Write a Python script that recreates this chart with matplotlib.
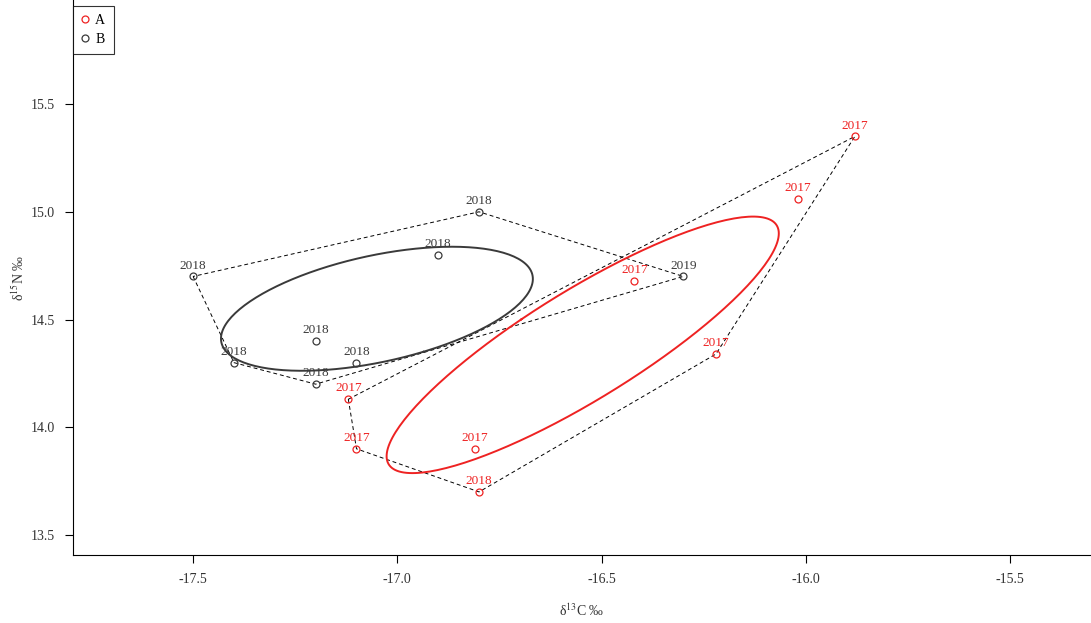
import matplotlib
matplotlib.use("Agg")
import matplotlib.pyplot as plt
import numpy as np

plt.rcParams['font.family'] = ['Liberation Serif', 'DejaVu Serif']
plt.rcParams['mathtext.fontset'] = 'stix'
plt.rcParams['axes.unicode_minus'] = False

# group A (red)
a_x = [-15.88, -16.02, -16.42, -16.22, -17.12, -17.10, -16.81, -16.80]
a_y = [15.35, 15.06, 14.68, 14.34, 14.13, 13.90, 13.90, 13.70]
a_lab = ["2017", "2017", "2017", "2017", "2017", "2017", "2017", "2018"]

# group B (grey)
b_x = [-17.50, -16.80, -16.90, -16.30, -17.20, -17.10, -17.40, -17.20]
b_y = [14.70, 15.00, 14.80, 14.70, 14.40, 14.30, 14.30, 14.20]
b_lab = ["2018", "2018", "2018", "2019", "2018", "2018", "2018", "2018"]

red = "#ee2222"
grey = "#3a3a3a"


def hull(xs, ys):
    pts = sorted(set(zip(xs, ys)))
    def cross(o, a, b):
        return (a[0]-o[0])*(b[1]-o[1]) - (a[1]-o[1])*(b[0]-o[0])
    lower = []
    for p in pts:
        while len(lower) >= 2 and cross(lower[-2], lower[-1], p) <= 0:
            lower.pop()
        lower.append(p)
    upper = []
    for p in reversed(pts):
        while len(upper) >= 2 and cross(upper[-2], upper[-1], p) <= 0:
            upper.pop()
        upper.append(p)
    h = lower[:-1] + upper[:-1]
    h.append(h[0])
    return [p[0] for p in h], [p[1] for p in h]


def std_ellipse(xs, ys, n=200):
    m = np.array([np.mean(xs), np.mean(ys)])
    cov = np.cov(xs, ys)
    vals, vecs = np.linalg.eigh(cov)
    t = np.linspace(0, 2*np.pi, n)
    circ = np.vstack([np.cos(t), np.sin(t)])
    e = vecs @ (np.sqrt(vals)[:, None] * circ)
    return e[0] + m[0], e[1] + m[1]


fig = plt.figure(figsize=(10.91, 6.23), dpi=100)
ax = fig.add_axes([0.0669, 0.1091, 0.9331, 0.8909])

for xs, ys in [(a_x, a_y), (b_x, b_y)]:
    hx, hy = hull(xs, ys)
    ax.plot(hx, hy, color="black", lw=0.7, ls=(0, (4, 3)))

ex, ey = std_ellipse(a_x, a_y)
ax.plot(ex, ey, color=red, lw=1.4)
ex, ey = std_ellipse(b_x, b_y)
ax.plot(ex, ey, color=grey, lw=1.4)

ax.plot(a_x, a_y, 'o', mfc='none', mec=red, ms=5, mew=0.9, label="A")
ax.plot(b_x, b_y, 'o', mfc='none', mec=grey, ms=5, mew=0.9, label="B")

for xs, ys, labs, c in [(a_x, a_y, a_lab, red), (b_x, b_y, b_lab, grey)]:
    for x, y, s in zip(xs, ys, labs):
        ax.annotate(s, (x, y), xytext=(0, 3.5), textcoords="offset points",
                    ha="center", va="bottom", color=c, fontsize=9.5)

ax.set_xlim(-17.794, -15.302)
ax.set_ylim(13.407, 15.983)
ax.set_xticks([-17.5, -17.0, -16.5, -16.0, -15.5])
ax.set_yticks([13.5, 14.0, 14.5, 15.0, 15.5])
ax.spines['top'].set_visible(False)
ax.spines['right'].set_visible(False)
ax.tick_params(direction='out', length=6, width=0.8, labelsize=10, pad=7,
               labelcolor="#333333")
ax.set_xlabel(r"δ$^{13}$C ‰", fontsize=10, labelpad=12, color="#333333")
ax.set_ylabel(r"δ$^{15}$N ‰", fontsize=10, labelpad=3, color="#333333")

leg = ax.legend(loc="upper left", bbox_to_anchor=(0, 0.99), frameon=True,
                fancybox=False, edgecolor="black", fontsize=10,
                handlelength=0.5, handletextpad=0.5, borderpad=0.6,
                labelspacing=0.45, borderaxespad=0)
leg.get_frame().set_linewidth(0.8)

fig.savefig("out.png", dpi=100)
